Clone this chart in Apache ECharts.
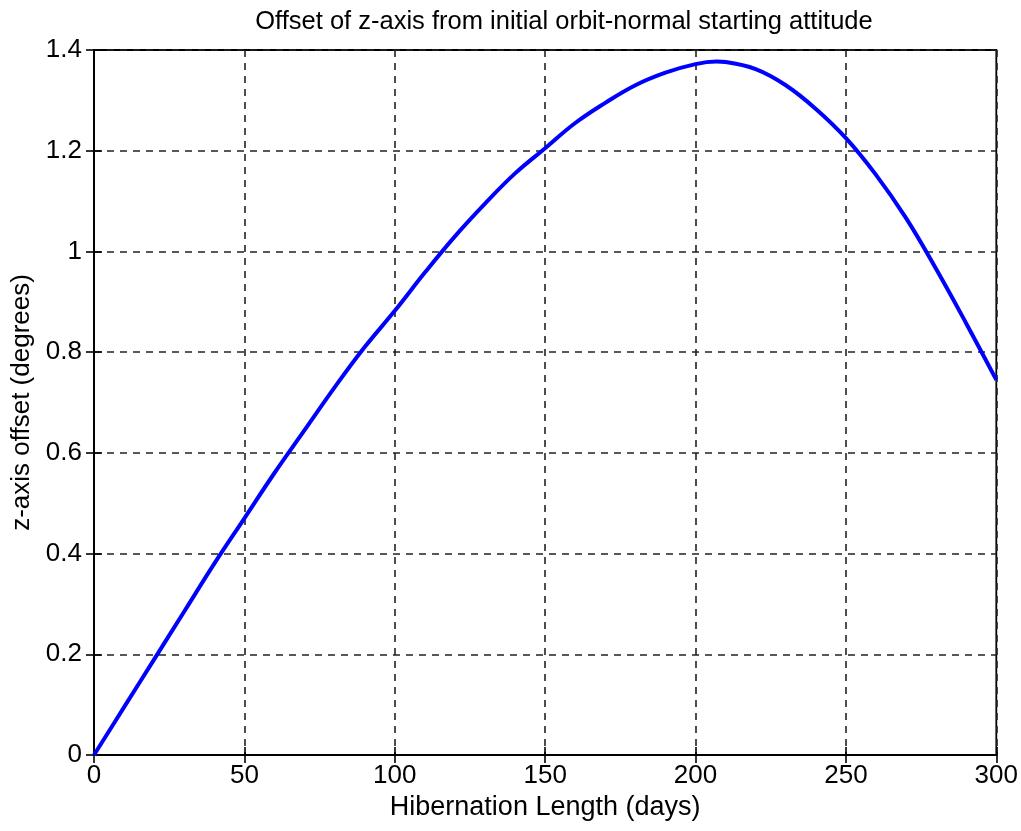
<!DOCTYPE html>
<html><head><meta charset="utf-8">
<script src="https://cdn.jsdelivr.net/npm/echarts@6/dist/echarts.min.js"></script>
<style>html,body{margin:0;padding:0;background:#fff}#c{width:1021px;height:831px}</style>
</head><body><div id="c"></div>
<script>
const days = [0,10,20,30,40,50,60,70,80,90,100,110,120,130,140,150,160,170,180,190,200,207,210,220,230,240,250,260,270,280,290,300];
const offset = [0,0.095,0.19,0.285,0.38,0.47,0.56,0.645,0.73,0.81,0.882,0.958,1.03,1.095,1.155,1.205,1.255,1.295,1.33,1.355,1.372,1.377,1.376,1.362,1.33,1.283,1.225,1.152,1.066,0.965,0.857,0.745];
const xTicks = [0,50,100,150,200,250,300];
const yTicks = [0,0.2,0.4,0.6,0.8,1,1.2,1.4];
const titleText = 'Offset of z-axis from initial orbit-normal starting attitude';
const xName = 'Hibernation Length (days)';
const yName = 'z-axis offset (degrees)';

const font = 'Liberation Sans, Arial, sans-serif';
const fs = 26;
const chart = echarts.init(document.getElementById('c'));
const gridStyle = {show:true, lineStyle:{color:'#222', type:[7,6], width:1.6}};
chart.setOption({
  animation:false,
  title:{text:titleText, left:559, textAlign:'center', top:4, textStyle:{fontFamily:font, fontWeight:'normal', fontSize:25.5, color:'#000'}},
  grid:{left:94, top:50, right:23, bottom:76, show:true, borderColor:'#000', borderWidth:1.8, backgroundColor:'#fff'},
  xAxis:[{
    type:'value', min:0, max:300, interval:50,
    name:xName, nameLocation:'middle', nameGap:33,
    nameTextStyle:{fontFamily:font, fontSize:27, color:'#000'},
    axisLine:{show:true, lineStyle:{color:'#000', width:1.8}},
    axisTick:{show:true, inside:true, length:8, lineStyle:{color:'#000', width:1.6}},
    axisLabel:{fontFamily:font, fontSize:fs, color:'#000', margin:8},
    splitLine:gridStyle
  },{
    type:'value', min:0, max:300, interval:50, position:'top',
    axisLine:{show:true, lineStyle:{color:'#000', width:1.8}},
    axisTick:{show:true, inside:true, length:8, lineStyle:{color:'#000', width:1.6}},
    axisLabel:{show:false}, splitLine:{show:false}
  }],
  yAxis:[{
    type:'value', min:0, max:1.4, interval:0.2,
    name:yName, nameLocation:'middle', nameGap:55,
    nameTextStyle:{fontFamily:font, fontSize:26, color:'#000'},
    axisLine:{show:true, lineStyle:{color:'#000', width:1.8}},
    axisTick:{show:true, inside:true, length:8, lineStyle:{color:'#000', width:1.6}},
    axisLabel:{fontFamily:font, fontSize:fs, color:'#000', margin:12},
    splitLine:gridStyle
  },{
    type:'value', min:0, max:1.4, interval:0.2, position:'right',
    axisLine:{show:true, lineStyle:{color:'#000', width:1.8}},
    axisTick:{show:true, inside:true, length:8, lineStyle:{color:'#000', width:1.6}},
    axisLabel:{show:false}, splitLine:{show:false}
  }],
  series:[{
    type:'line', smooth:0.4, showSymbol:false, symbol:'none',
    data:days.map((d,i)=>[d, offset[i]]),
    lineStyle:{color:'#0000ff', width:4}, z:5
  }]
});
</script></body></html>
